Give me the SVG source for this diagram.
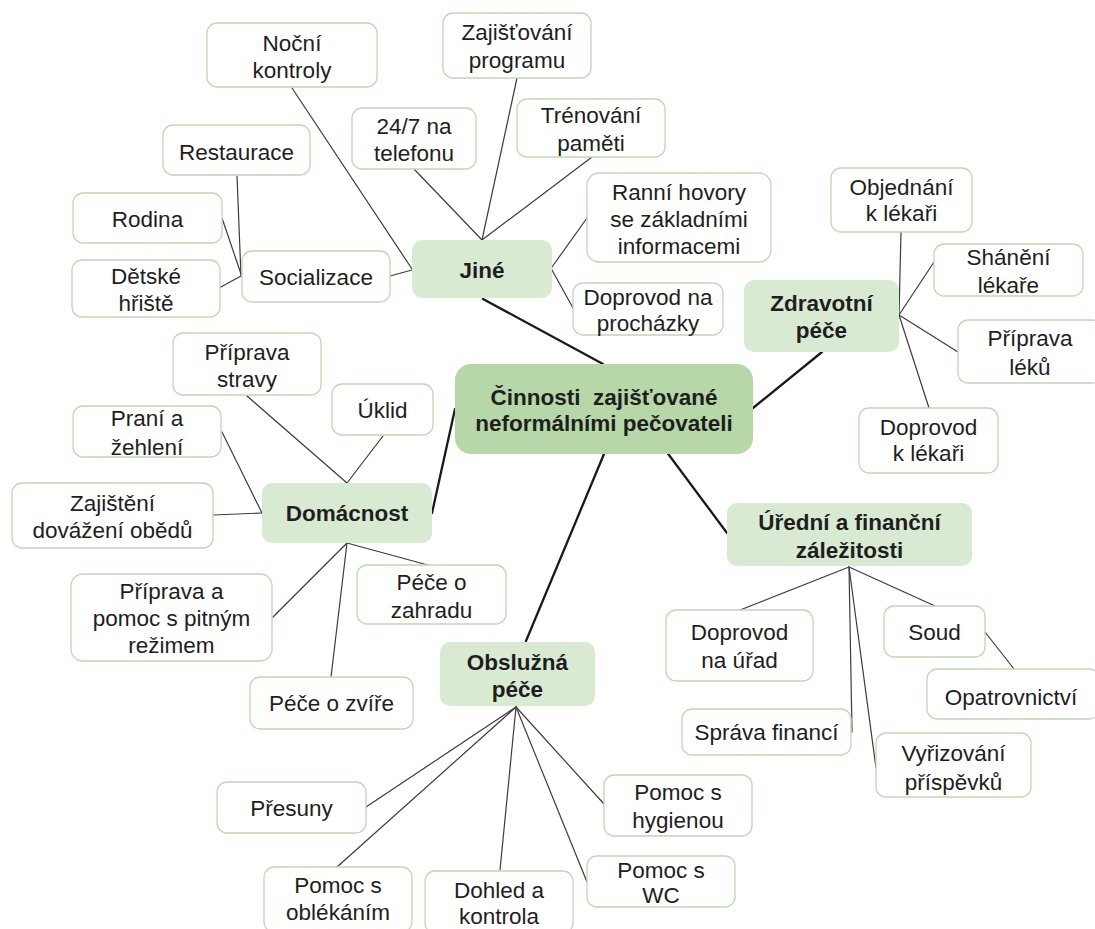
<svg xmlns="http://www.w3.org/2000/svg" width="1095" height="929" viewBox="0 0 1095 929">
<style>
.n rect{fill:#ffffff;stroke:#bfd8b3;stroke-width:1.3}
.g rect{fill:#d9ead3;stroke:none}
.c rect{fill:#b6d7a8;stroke:none}
text{font-family:"Liberation Sans",Arial,sans-serif;font-size:22.5px;fill:#1e1e1e;text-anchor:middle;dominant-baseline:central}
.g text,.c text{font-weight:bold}
#connectors line{stroke:#3c3c3c;stroke-width:1.2;stroke-linecap:round}
#connectors line.t{stroke:#1a1a1a;stroke-width:2.3}
</style>
<rect width="1095" height="929" fill="#ffffff"/>
<g id="connectors">
<line class="t" x1="483" y1="299" x2="603" y2="364"/>
<line class="t" x1="753" y1="408" x2="822" y2="352"/>
<line class="t" x1="432" y1="513" x2="455" y2="409"/>
<line class="t" x1="604" y1="454" x2="526" y2="641"/>
<line class="t" x1="666" y1="451" x2="727" y2="533"/>
<line x1="292" y1="88" x2="412" y2="269"/>
<line x1="390" y1="276" x2="412" y2="270"/>
<line x1="414" y1="169" x2="482" y2="240"/>
<line x1="517" y1="78" x2="482" y2="240"/>
<line x1="592" y1="157" x2="482" y2="240"/>
<line x1="552" y1="267" x2="587" y2="218"/>
<line x1="552" y1="270" x2="573" y2="308"/>
<line x1="237" y1="176" x2="241" y2="276"/>
<line x1="222" y1="218" x2="241" y2="274"/>
<line x1="219" y1="288" x2="241" y2="276"/>
<line x1="901" y1="232" x2="899" y2="315"/>
<line x1="934" y1="262" x2="899" y2="315"/>
<line x1="958" y1="352" x2="899" y2="315"/>
<line x1="929" y1="408" x2="899" y2="315"/>
<line x1="247" y1="396" x2="347" y2="483"/>
<line x1="383" y1="436" x2="347" y2="483"/>
<line x1="222" y1="432" x2="262" y2="513"/>
<line x1="213" y1="515" x2="262" y2="513"/>
<line x1="347" y1="543" x2="273" y2="617"/>
<line x1="347" y1="543" x2="331" y2="677"/>
<line x1="347" y1="543" x2="435" y2="567"/>
<line x1="516" y1="707" x2="366" y2="807"/>
<line x1="516" y1="707" x2="337" y2="867"/>
<line x1="516" y1="707" x2="500" y2="870"/>
<line x1="516" y1="707" x2="587" y2="882"/>
<line x1="516" y1="707" x2="604" y2="804"/>
<line x1="849" y1="567" x2="740" y2="610"/>
<line x1="849" y1="567" x2="852" y2="732"/>
<line x1="849" y1="567" x2="876" y2="768"/>
<line x1="849" y1="567" x2="935" y2="606"/>
<line x1="985" y1="632" x2="1014" y2="669"/>
</g>
<g id="central" class="c"><rect x="455" y="364" width="298" height="90" rx="16"/><text x="604" y="397" xml:space="preserve">Činnosti  zajišťované</text><text x="604" y="423">neformálními pečovateli</text></g>
<g id="jine" class="g"><rect x="412" y="240" width="140" height="58" rx="10"/><text x="482" y="270">Jiné</text></g>
<g id="zdravotni" class="g"><rect x="744" y="280" width="155" height="72" rx="10"/><text x="821.5" y="303">Zdravotní</text><text x="821.5" y="330">péče</text></g>
<g id="domacnost" class="g"><rect x="262" y="483" width="170" height="60" rx="10"/><text x="347" y="513">Domácnost</text></g>
<g id="obsluzna" class="g"><rect x="440" y="642" width="155" height="64" rx="10"/><text x="517.5" y="662">Obslužná</text><text x="517.5" y="689">péče</text></g>
<g id="uredni" class="g"><rect x="727" y="503" width="245" height="63" rx="10"/><text x="849.5" y="522">Úřední a finanční</text><text x="849.5" y="550">záležitosti</text></g>
<g id="nocni" class="n"><rect x="207" y="23" width="170" height="64" rx="10"/><text x="292" y="43">Noční</text><text x="292" y="70">kontroly</text></g>
<g id="zajistovani" class="n"><rect x="443" y="13" width="148" height="65" rx="10"/><text x="517" y="32">Zajišťování</text><text x="517" y="60">programu</text></g>
<g id="telefon" class="n"><rect x="352" y="108" width="124" height="61" rx="10"/><text x="414" y="126">24/7 na</text><text x="414" y="153">telefonu</text></g>
<g id="trenovani" class="n"><rect x="517" y="99" width="148" height="58" rx="10"/><text x="591" y="115">Trénování</text><text x="591" y="143">paměti</text></g>
<g id="ranni" class="n"><rect x="587" y="173" width="184" height="89" rx="12"/><text x="679" y="192">Ranní hovory</text><text x="679" y="219">se základními</text><text x="679" y="246">informacemi</text></g>
<g id="prochazky" class="n"><rect x="573" y="283" width="150" height="52" rx="10"/><text x="648" y="297">Doprovod na</text><text x="648" y="323">procházky</text></g>
<g id="restaurace" class="n"><rect x="163" y="125" width="147" height="50" rx="10"/><text x="236.5" y="152">Restaurace</text></g>
<g id="rodina" class="n"><rect x="73" y="193" width="149" height="50" rx="10"/><text x="147.5" y="219">Rodina</text></g>
<g id="hriste" class="n"><rect x="72" y="260" width="148" height="57" rx="10"/><text x="146" y="276">Dětské</text><text x="146" y="303">hřiště</text></g>
<g id="socializace" class="n"><rect x="242" y="251" width="148" height="51" rx="10"/><text x="316" y="277">Socializace</text></g>
<g id="objednani" class="n"><rect x="831" y="168" width="141" height="64" rx="10"/><text x="901.5" y="187">Objednání</text><text x="901.5" y="213">k lékaři</text></g>
<g id="shaneni" class="n"><rect x="934" y="244" width="149" height="52" rx="10"/><text x="1008.5" y="257">Shánění</text><text x="1008.5" y="285">lékaře</text></g>
<g id="pripravaleku" class="n"><rect x="958" y="320" width="144" height="63" rx="10"/><text x="1030" y="338">Příprava</text><text x="1030" y="367">léků</text></g>
<g id="doprovodlekar" class="n"><rect x="859" y="408" width="139" height="65" rx="10"/><text x="928.5" y="427">Doprovod</text><text x="928.5" y="453">k lékaři</text></g>
<g id="stravy" class="n"><rect x="173" y="333" width="148" height="62" rx="10"/><text x="247" y="352">Příprava</text><text x="247" y="379">stravy</text></g>
<g id="uklid" class="n"><rect x="332" y="384" width="101" height="51" rx="10"/><text x="382.5" y="410">Úklid</text></g>
<g id="prani" class="n"><rect x="73" y="406" width="148" height="51" rx="10"/><text x="147" y="418">Praní a</text><text x="147" y="447">žehlení</text></g>
<g id="obedy" class="n"><rect x="12" y="483" width="201" height="65" rx="10"/><text x="112.5" y="503">Zajištění</text><text x="112.5" y="530">dovážení obědů</text></g>
<g id="pitny" class="n"><rect x="71" y="574" width="201" height="87" rx="12"/><text x="171.5" y="591">Příprava a</text><text x="171.5" y="618">pomoc s pitným</text><text x="171.5" y="645">režimem</text></g>
<g id="zahrada" class="n"><rect x="357" y="565" width="149" height="59" rx="10"/><text x="431.5" y="582">Péče o</text><text x="431.5" y="610">zahradu</text></g>
<g id="zvire" class="n"><rect x="250" y="677" width="163" height="52" rx="10"/><text x="331.5" y="703">Péče o zvíře</text></g>
<g id="presuny" class="n"><rect x="217" y="782" width="149" height="51" rx="10"/><text x="291.5" y="808">Přesuny</text></g>
<g id="obleka" class="n"><rect x="264" y="867" width="148" height="65" rx="10"/><text x="338" y="885">Pomoc s</text><text x="338" y="912">oblékáním</text></g>
<g id="dohled" class="n"><rect x="425" y="871" width="148" height="62" rx="10"/><text x="499" y="890">Dohled a</text><text x="499" y="916">kontrola</text></g>
<g id="hygiena" class="n"><rect x="604" y="775" width="148" height="61" rx="10"/><text x="678" y="792">Pomoc s</text><text x="678" y="820">hygienou</text></g>
<g id="wc" class="n"><rect x="587" y="856" width="148" height="51" rx="10"/><text x="661" y="870">Pomoc s</text><text x="661" y="895">WC</text></g>
<g id="uradu" class="n"><rect x="666" y="610" width="147" height="71" rx="10"/><text x="739.5" y="632">Doprovod</text><text x="739.5" y="660">na úřad</text></g>
<g id="soud" class="n"><rect x="884" y="606" width="101" height="51" rx="10"/><text x="934.5" y="632">Soud</text></g>
<g id="opatrovnictvi" class="n"><rect x="927" y="669" width="172" height="50" rx="10"/><text x="1011" y="697">Opatrovnictví</text></g>
<g id="financi" class="n"><rect x="682" y="709" width="169" height="46" rx="10"/><text x="766.5" y="732">Správa financí</text></g>
<g id="prispevky" class="n"><rect x="876" y="733" width="155" height="64" rx="10"/><text x="953.5" y="753">Vyřizování</text><text x="953.5" y="782">příspěvků</text></g>
</svg>
